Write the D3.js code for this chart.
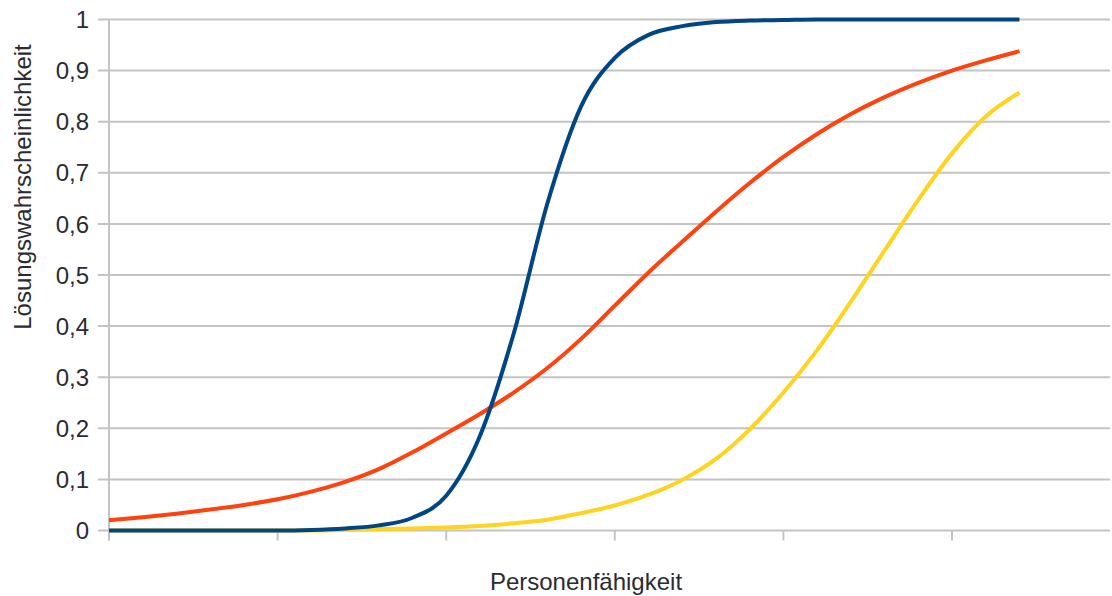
<!DOCTYPE html>
<html>
<head>
<meta charset="utf-8">
<script src="https://cdn.jsdelivr.net/npm/d3@7"></script>
<style>
  html, body { margin: 0; padding: 0; background: #ffffff; }
  svg { display: block; }
  text { font-family: "Liberation Sans", Arial, sans-serif; fill: #2b2b33; }
</style>
</head>
<body>
<svg id="chart" width="1112" height="596"></svg>
<script>
// Ability (x) positions, in tick units
const theta = [0, 0.2, 0.4, 0.6, 0.8, 1.0, 1.2, 1.4, 1.6, 1.8, 2.0, 2.2, 2.4, 2.6, 2.8,
               3.0, 3.2, 3.4, 3.6, 3.8, 4.0, 4.2, 4.4, 4.6, 4.8, 5.0, 5.2, 5.4];
// Blue item (steep)
const blueValues = [0, 0, 0, 0, 0, 0, 0.001, 0.004, 0.01, 0.025, 0.068, 0.185, 0.385, 0.64, 0.83,
                    0.925, 0.97, 0.987, 0.995, 0.998, 0.999, 1, 1, 1, 1, 1, 1, 1];
// Red item (flat)
const redValues = [0.02, 0.026, 0.033, 0.041, 0.05, 0.061, 0.076, 0.095, 0.12, 0.153, 0.19, 0.228, 0.27, 0.318, 0.375,
                   0.44, 0.505, 0.565, 0.624, 0.68, 0.731, 0.776, 0.815, 0.848, 0.876, 0.9, 0.92, 0.938];
// Yellow item (difficult)
const yellowValues = [0, 0, 0, 0, 0, 0, 0, 0.001, 0.003, 0.004, 0.006, 0.009, 0.014, 0.021, 0.034,
                      0.049, 0.07, 0.099, 0.14, 0.198, 0.27, 0.353, 0.448, 0.548, 0.647, 0.738, 0.81, 0.857];
const xTicks = [0, 1, 2, 3, 4, 5];
const yTicks = [0, 0.1, 0.2, 0.3, 0.4, 0.5, 0.6, 0.7, 0.8, 0.9, 1];
const yTickLabels = ["0", "0,1", "0,2", "0,3", "0,4", "0,5", "0,6", "0,7", "0,8", "0,9", "1"];
const xTitle = "Personenfähigkeit";
const yTitle = "Lösungswahrscheinlichkeit";

const series = [
  { name: "gelb", values: yellowValues, color: "#ffd320" },
  { name: "rot", values: redValues, color: "#ff420e" },
  { name: "blau", values: blueValues, color: "#004586" }
];

const svg = d3.select("#chart");
const plotLeft = 109, plotRight = 1110, plotTop = 19.5, plotBottom = 530.5;

const x = d3.scaleLinear().domain([0, (plotRight - plotLeft) / 168.6]).range([plotLeft, plotRight]);
const y = d3.scaleLinear().domain([0, 1]).range([plotBottom, plotTop]);

const gridColor = "#c4c4c4";

// horizontal grid
svg.append("g").selectAll("line").data(yTicks).join("line")
  .attr("x1", plotLeft - 11).attr("x2", plotRight)
  .attr("y1", d => y(d)).attr("y2", d => y(d))
  .attr("stroke", gridColor).attr("stroke-width", 2);

// y axis line
svg.append("line")
  .attr("x1", plotLeft).attr("x2", plotLeft)
  .attr("y1", plotTop).attr("y2", plotBottom + 10)
  .attr("stroke", gridColor).attr("stroke-width", 2);

// x ticks
svg.append("g").selectAll("line").data(xTicks).join("line")
  .attr("x1", d => x(d)).attr("x2", d => x(d))
  .attr("y1", plotBottom).attr("y2", plotBottom + 10)
  .attr("stroke", gridColor).attr("stroke-width", 2);

// y tick labels
svg.append("g").selectAll("text").data(yTicks).join("text")
  .attr("x", 89)
  .attr("y", d => y(d))
  .attr("dy", "0.36em")
  .attr("text-anchor", "end")
  .attr("font-size", 24)
  .text((d, i) => yTickLabels[i]);

// lines
const line = d3.line()
  .x((d, i) => x(theta[i]))
  .y(d => y(d))
  .curve(d3.curveMonotoneX);

svg.append("g").selectAll("path").data(series).join("path")
  .attr("d", d => line(d.values))
  .attr("fill", "none")
  .attr("stroke", d => d.color)
  .attr("stroke-width", 4)
  .attr("stroke-linejoin", "round");

// axis titles
svg.append("text")
  .attr("x", 586).attr("y", 590)
  .attr("text-anchor", "middle")
  .attr("font-size", 24)
  .text(xTitle);

svg.append("text")
  .attr("transform", "translate(31,187) rotate(-90)")
  .attr("text-anchor", "middle")
  .attr("font-size", 24)
  .text(yTitle);
</script>
</body>
</html>
